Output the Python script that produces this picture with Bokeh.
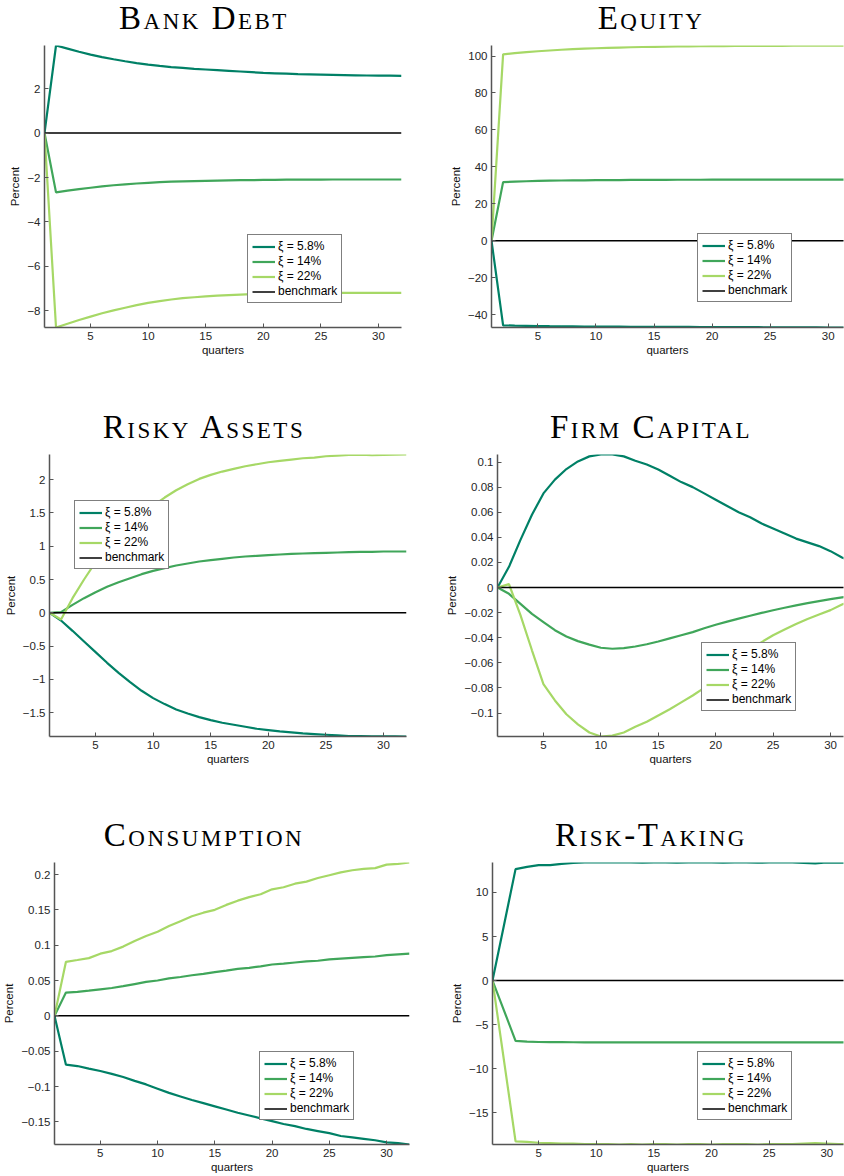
from bokeh.plotting import figure
from bokeh.models import Range1d, FixedTicker, CustomJSTickFormatter, Div
from bokeh.layouts import row, column
from bokeh.embed import file_html
from bokeh.resources import INLINE

# ---------------- data ----------------
QUARTERS = list(range(1, 33))
SERIES_LABELS = ["ξ = 5.8%", "ξ = 14%", "ξ = 22%"]
BENCH_LABEL = "benchmark"
X_TICKS = [5, 10, 15, 20, 25, 30]

BENCH = [0, 0, 0, 0, 0, 0, 0, 0, 0, 0, 0, 0, 0, 0, 0, 0,
         0, 0, 0, 0, 0, 0, 0, 0, 0, 0, 0, 0, 0, 0, 0, 0]

BD_58 = [0, 3.94, 3.80, 3.66, 3.53, 3.42, 3.32, 3.23, 3.15, 3.08, 3.02, 2.97, 2.93, 2.89, 2.86, 2.83,
         2.80, 2.77, 2.74, 2.71, 2.69, 2.67, 2.65, 2.64, 2.63, 2.62, 2.61, 2.60, 2.59, 2.58, 2.58, 2.57]
BD_14 = [0, -2.67, -2.59, -2.52, -2.46, -2.40, -2.35, -2.31, -2.27, -2.24, -2.21, -2.19, -2.17, -2.16, -2.15, -2.14,
         -2.13, -2.12, -2.12, -2.11, -2.11, -2.10, -2.10, -2.10, -2.10, -2.09, -2.09, -2.09, -2.09, -2.09, -2.09, -2.09]
BD_22 = [0, -8.75, -8.58, -8.41, -8.26, -8.11, -7.98, -7.86, -7.74, -7.64, -7.56, -7.49, -7.43, -7.39, -7.35, -7.32,
         -7.29, -7.27, -7.25, -7.23, -7.22, -7.21, -7.20, -7.20, -7.19, -7.19, -7.19, -7.19, -7.19, -7.19, -7.19, -7.19]
BD_TICKS = [-8, -6, -4, -2, 0, 2]

EQ_58 = [0, -45.8, -46.0, -46.1, -46.2, -46.3, -46.35, -46.4, -46.45, -46.5, -46.5, -46.55, -46.6, -46.6, -46.65, -46.65,
         -46.7, -46.7, -46.75, -46.75, -46.8, -46.8, -46.85, -46.85, -46.9, -46.9, -46.9, -46.95, -46.95, -47.0, -47.0, -47.0]
EQ_14 = [0, 31.7, 32.0, 32.2, 32.35, 32.5, 32.6, 32.65, 32.7, 32.75, 32.8, 32.85, 32.9, 32.9, 32.95, 32.95,
         33.0, 33.0, 33.0, 33.05, 33.05, 33.05, 33.1, 33.1, 33.1, 33.1, 33.1, 33.1, 33.1, 33.1, 33.1, 33.1]
EQ_22 = [0, 100.9, 101.6, 102.1, 102.6, 103.0, 103.4, 103.7, 104.0, 104.2, 104.4, 104.6, 104.75, 104.9, 105.0, 105.1,
         105.2, 105.25, 105.3, 105.35, 105.4, 105.45, 105.5, 105.5, 105.55, 105.55, 105.6, 105.6, 105.6, 105.65, 105.65, 105.7]
EQ_TICKS = [-40, -20, 0, 20, 40, 60, 80, 100]

RA_58 = [0, -0.115, -0.27, -0.43, -0.59, -0.75, -0.90, -1.04, -1.17, -1.28, -1.37, -1.45, -1.51, -1.565, -1.61, -1.65,
         -1.68, -1.71, -1.74, -1.76, -1.78, -1.795, -1.81, -1.82, -1.83, -1.84, -1.85, -1.85, -1.855, -1.855, -1.855, -1.856]
RA_14 = [0, 0.01, 0.12, 0.22, 0.31, 0.39, 0.46, 0.52, 0.58, 0.63, 0.67, 0.71, 0.74, 0.77, 0.79, 0.81,
         0.83, 0.845, 0.855, 0.865, 0.875, 0.885, 0.89, 0.895, 0.90, 0.905, 0.91, 0.915, 0.915, 0.92, 0.92, 0.92]
RA_22 = [0, -0.10, 0.22, 0.50, 0.76, 0.98, 1.17, 1.33, 1.48, 1.61, 1.73, 1.84, 1.93, 2.01, 2.07, 2.12,
         2.16, 2.20, 2.23, 2.26, 2.28, 2.30, 2.32, 2.33, 2.35, 2.36, 2.37, 2.375, 2.365, 2.37, 2.375, 2.376]
RA_TICKS = [-1.5, -1, -0.5, 0, 0.5, 1, 1.5, 2]

FC_58 = [0, 0.0165, 0.038, 0.058, 0.075, 0.086, 0.0944, 0.1005, 0.1045, 0.106, 0.106, 0.1045, 0.101, 0.098, 0.094, 0.089,
         0.084, 0.080, 0.075, 0.070, 0.065, 0.060, 0.056, 0.051, 0.047, 0.043, 0.039, 0.036, 0.033, 0.029, 0.024, 0.020]
FC_14 = [0, -0.005, -0.013, -0.021, -0.0275, -0.034, -0.039, -0.0427, -0.0455, -0.048, -0.0488, -0.0483, -0.047, -0.0452, -0.043, -0.0405,
         -0.038, -0.0355, -0.0325, -0.0297, -0.0272, -0.0248, -0.0225, -0.0202, -0.0181, -0.0161, -0.0142, -0.0124, -0.0108, -0.0093, -0.0078, -0.0064]
FC_22 = [0, 0.0027, -0.022, -0.050, -0.077, -0.090, -0.101, -0.109, -0.1155, -0.1187, -0.118, -0.1155, -0.111, -0.107, -0.102, -0.097,
         -0.0915, -0.086, -0.080, -0.074, -0.066, -0.058, -0.050, -0.0435, -0.038, -0.0335, -0.029, -0.025, -0.0215, -0.018, -0.0135, -0.010]
FC_TICKS = [-0.1, -0.08, -0.06, -0.04, -0.02, 0, 0.02, 0.04, 0.06, 0.08, 0.1]

C_58 = [0, -0.069, -0.071, -0.0746, -0.078, -0.082, -0.0865, -0.092, -0.097, -0.103, -0.109, -0.114, -0.119, -0.1235, -0.128, -0.1325,
        -0.137, -0.141, -0.145, -0.149, -0.153, -0.156, -0.160, -0.163, -0.166, -0.170, -0.172, -0.174, -0.176, -0.179, -0.180, -0.182]
C_14 = [0, 0.033, 0.034, 0.0356, 0.0375, 0.0394, 0.042, 0.045, 0.048, 0.050, 0.053, 0.055, 0.0575, 0.0594, 0.062, 0.064,
        0.0665, 0.068, 0.070, 0.0727, 0.074, 0.0755, 0.077, 0.078, 0.080, 0.081, 0.082, 0.083, 0.084, 0.086, 0.087, 0.088]
C_22 = [0, 0.0765, 0.079, 0.0817, 0.088, 0.0917, 0.098, 0.106, 0.113, 0.119, 0.127, 0.134, 0.141, 0.146, 0.150, 0.157,
        0.163, 0.168, 0.172, 0.179, 0.182, 0.187, 0.190, 0.195, 0.199, 0.203, 0.206, 0.208, 0.209, 0.214, 0.215, 0.217]
C_TICKS = [-0.15, -0.1, -0.05, 0, 0.05, 0.1, 0.15, 0.2]

RT_58 = [0, 6.3, 12.65, 12.9, 13.1, 13.1, 13.25, 13.35, 13.4, 13.4, 13.4, 13.4, 13.4, 13.38, 13.4, 13.4,
         13.38, 13.4, 13.4, 13.4, 13.38, 13.4, 13.4, 13.38, 13.4, 13.4, 13.4, 13.35, 13.3, 13.4, 13.38, 13.38]
RT_14 = [0, -3.4, -6.84, -6.93, -6.97, -6.98, -6.99, -7.0, -7.01, -7.02, -7.02, -7.02, -7.02, -7.01, -7.02, -7.02,
         -7.02, -7.01, -7.02, -7.02, -7.01, -7.02, -7.02, -7.01, -7.02, -7.02, -7.02, -7.01, -7.0, -7.02, -7.02, -7.02]
RT_22 = [0, -9.1, -18.25, -18.3, -18.4, -18.45, -18.5, -18.5, -18.55, -18.55, -18.55, -18.6, -18.55, -18.6, -18.55, -18.55,
         -18.6, -18.55, -18.55, -18.6, -18.55, -18.55, -18.55, -18.6, -18.55, -18.55, -18.55, -18.5, -18.45, -18.5, -18.55, -18.55]
RT_TICKS = [-15, -10, -5, 0, 5, 10]

TITLES = ["Bank Debt", "Equity", "Risky Assets", "Firm Capital", "Consumption", "Risk-Taking"]

# ---------------- style ----------------
COLORS = ["#008066", "#40A65A", "#A6D866"]
SANS = "Liberation Sans"
FH = 282
TOP = 15
DIV_H = 30
LEFT_W = 420
RIGHT_W = 424
LEFT_FRAME_W = 357

fmt = CustomJSTickFormatter(code="""
var v = Math.round(tick * 10000) / 10000;
return v.toString().replace('-', '\\u2212');
""")


def make_panel(title, series, yticks, col, left, xend, loc, bottom):
    allv = [v for s in series for v in s]
    lo, hi = min(allv), max(allv)
    if col == 0:
        w = LEFT_W
        right = LEFT_W - LEFT_FRAME_W - left
        title_center = 204
    else:
        w = RIGHT_W
        right = 1
        title_center = 231
    p = figure(width=w, height=TOP + FH + bottom,
               x_range=Range1d(1, xend), y_range=Range1d(lo, hi),
               output_backend="svg", toolbar_location=None,
               min_border_left=left, min_border_right=right,
               min_border_top=TOP, min_border_bottom=bottom,
               outline_line_color=None, background_fill_color="white",
               border_fill_color="white", margin=0)
    p.grid.visible = False
    for s, lab, c in zip(series, SERIES_LABELS, COLORS):
        p.line(QUARTERS, s, line_color=c, line_width=2.2, legend_label=lab)
    p.line(QUARTERS, BENCH, line_color="black", line_width=1.5, legend_label=BENCH_LABEL)

    for ax in (p.xaxis[0], p.yaxis[0]):
        ax.axis_line_color = "#555555"
        ax.axis_line_width = 1.5
        ax.major_tick_line_color = "#555555"
        ax.major_tick_in = 4
        ax.major_tick_out = 0
        ax.minor_tick_line_color = None
        ax.major_label_text_font = SANS
        ax.major_label_text_font_size = "11.5px"
        ax.major_label_text_color = "#262626"
        ax.axis_label_text_font = SANS
        ax.axis_label_text_font_size = "11.5px"
        ax.axis_label_text_font_style = "normal"
        ax.axis_label_text_color = "#111111"
        ax.formatter = fmt
    p.xaxis.ticker = FixedTicker(ticks=X_TICKS)
    p.yaxis.ticker = FixedTicker(ticks=yticks)
    p.xaxis.axis_label = "quarters"
    p.yaxis.axis_label = "Percent"
    p.xaxis.major_label_standoff = 4
    p.xaxis.axis_label_standoff = 1
    p.yaxis.major_label_standoff = 4
    p.yaxis.axis_label_standoff = 3

    lg = p.legend[0]
    lg.location = loc
    lg.margin = 0
    lg.padding = 4
    lg.spacing = 1
    lg.glyph_width = 23
    lg.glyph_height = 13
    lg.label_height = 13
    lg.label_standoff = 3
    lg.label_text_font = SANS
    lg.label_text_font_size = "12px"
    lg.label_text_color = "black"
    lg.border_line_color = "black"
    lg.border_line_width = 1.2
    lg.background_fill_color = "white"
    lg.background_fill_alpha = 1.0

    html = ('<div style="position:relative;width:320px;left:%dpx;top:0px;margin:0;padding:0;text-align:center;'
            'font-family:\'Liberation Serif\',serif;font-size:33px;line-height:37px;'
            'font-variant:small-caps;letter-spacing:2.5px;color:#000;white-space:nowrap">%s</div>'
            % (title_center - 160, title))
    d = Div(text=html, width=w, height=DIV_H, margin=0,
            styles={"overflow": "visible", "margin": "0", "padding": "0"})
    return column(d, p, spacing=0, margin=0)


B1 = 454 - 327 - DIV_H - TOP
B2 = 862 - 736 - DIV_H - TOP
B3 = 31

cells = [
    make_panel(TITLES[0], [BD_58, BD_14, BD_22], BD_TICKS, 0, 44, 32, (203, 24), B1),
    make_panel(TITLES[1], [EQ_58, EQ_14, EQ_22], EQ_TICKS, 1, 71, 31.32, (206, 25), B1),
    make_panel(TITLES[2], [RA_58, RA_14, RA_22], RA_TICKS, 0, 49, 32, (25, 167), B2),
    make_panel(TITLES[3], [FC_58, FC_14, FC_22], FC_TICKS, 1, 77, 31.13, (204, 25), B2),
    make_panel(TITLES[4], [C_58, C_14, C_22], C_TICKS, 0, 52, 32, (205, 24), B3),
    make_panel(TITLES[5], [RT_58, RT_14, RT_22], RT_TICKS, 1, 72, 31.45, (205, 24), B3),
]

layout = column(
    row(cells[0], cells[1], spacing=0, margin=0),
    row(cells[2], cells[3], spacing=0, margin=0),
    row(cells[4], cells[5], spacing=0, margin=0),
    spacing=0, margin=0,
)

open("out.html", "w", encoding="utf-8").write(file_html(layout, INLINE, title="Impulse responses"))
